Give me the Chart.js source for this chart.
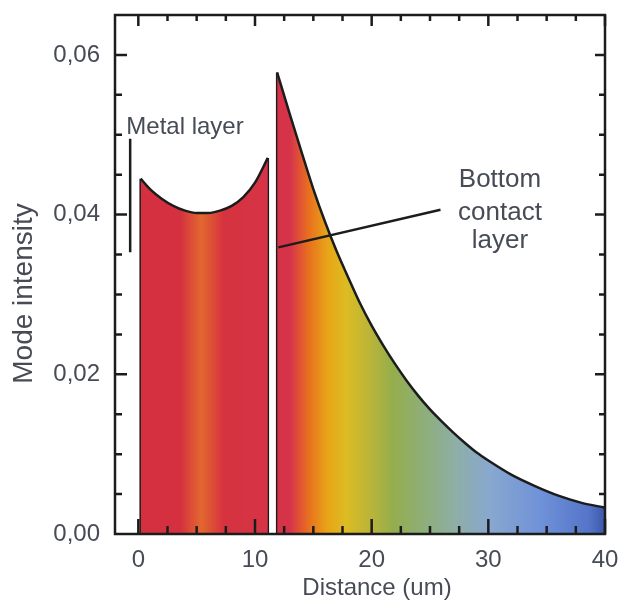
<!DOCTYPE html>
<html>
<head>
<meta charset="utf-8">
<script src="https://cdn.jsdelivr.net/npm/chart.js@4.4.1/dist/chart.umd.min.js"></script>
<style>
  html, body { margin: 0; padding: 0; background: #fff; }
  canvas { display: block; }
</style>
</head>
<body>
<canvas id="modeChart" width="619" height="600"></canvas>
<script>
// values (distance in um, mode intensity)
const metalX = [0.2, 1, 2, 3, 4, 5, 6, 7, 8, 9, 10, 11.1];
const metalY = [0.0445, 0.0432, 0.0420, 0.0411, 0.0405, 0.0402, 0.0402, 0.0405, 0.0411, 0.0422, 0.0440, 0.0471];

const contactX = [11.9, 13, 14, 15, 16, 17, 18, 19, 20, 21, 22, 23, 24, 25, 26, 27, 28, 29, 30, 32, 34, 36, 38, 40];
const contactY = [0.0578, 0.0525, 0.0478, 0.0432, 0.0391, 0.0354, 0.0321, 0.0289, 0.0261, 0.0236, 0.0213, 0.0192, 0.0173, 0.0156,
                  0.0141, 0.0127, 0.0114, 0.0102, 0.0092, 0.0074, 0.0060, 0.0048, 0.0039, 0.0033];

const xTicks = [0, 10, 20, 30, 40];
const yTicks = [0, 0.02, 0.04, 0.06];

// colour bands across the distance axis
const spectrum = [
  [-2, '#d5303f'], [3.6, '#d5303f'], [5.4, '#e2682f'], [7.3, '#d6333f'],
  [13.0, '#d6334a'], [14.6, '#e8701e'], [16.2, '#e8a418'], [17.8, '#dcbc22'],
  [20.0, '#b8b43a'], [21.8, '#94ae4c'], [24.4, '#8eae78'], [27.3, '#8eaea8'],
  [30.1, '#88a8cf'], [34.4, '#7092d8'], [38.7, '#5474c8'], [40, '#3a58a8']
];

const textColor = '#474b55';
const lineColor = '#1c1c1c';

let cachedGrad = null;
function spectrumFill(context) {
  const chart = context.chart;
  const area = chart.chartArea;
  if (!area) return '#d5303f';
  const xs = chart.scales.x;
  const x0 = xs.getPixelForValue(-2), x1 = xs.getPixelForValue(40);
  if (cachedGrad && cachedGrad.key === x0 + ':' + x1) return cachedGrad.g;
  const g = chart.ctx.createLinearGradient(x0, 0, x1, 0);
  spectrum.forEach(([v, c]) => g.addColorStop((v + 2) / 42, c));
  cachedGrad = { key: x0 + ':' + x1, g };
  return g;
}

function toPoints(xs, ys) {
  return xs.map((x, i) => ({ x: x, y: ys[i] }));
}

// vertical side of a filled region, from the axis up to the curve
function edge(xs, ys, i) {
  return {
    data: [{ x: xs[i], y: 0 }, { x: xs[i], y: ys[i] }],
    fill: false,
    borderColor: lineColor,
    borderWidth: 2.5,
    pointRadius: 0
  };
}

const decor = {
  id: 'decor',
  afterDatasetsDraw(chart) {
    const { ctx, chartArea: a, scales: { x, y } } = chart;
    ctx.save();
    ctx.strokeStyle = lineColor;
    ctx.lineWidth = 2.5;
    ctx.strokeRect(a.left, a.top, a.right - a.left, a.bottom - a.top);

    // inward ticks on all four sides
    ctx.beginPath();
    for (let v = 0; v <= 40; v += 2.5) {
      const px = x.getPixelForValue(v);
      const major = xTicks.includes(v);
      ctx.moveTo(px, a.bottom); ctx.lineTo(px, a.bottom - (major ? 15 : 8));
      ctx.moveTo(px, a.top); ctx.lineTo(px, a.top + (major ? 11 : 6));
    }
    for (let k = 1; k <= 12; k++) {
      const py = y.getPixelForValue(k * 0.005);
      const major = k % 4 === 0;
      ctx.moveTo(a.left, py); ctx.lineTo(a.left + (major ? 12 : 7), py);
      ctx.moveTo(a.right, py); ctx.lineTo(a.right - (major ? 10 : 6), py);
    }
    ctx.stroke();

    // metal layer marker and bottom contact pointer
    ctx.beginPath();
    ctx.moveTo(x.getPixelForValue(-0.7), y.getPixelForValue(0.0495));
    ctx.lineTo(x.getPixelForValue(-0.7), y.getPixelForValue(0.0353));
    ctx.moveTo(x.getPixelForValue(12.0), y.getPixelForValue(0.0359));
    ctx.lineTo(x.getPixelForValue(25.9), y.getPixelForValue(0.0406));
    ctx.stroke();

    ctx.fillStyle = textColor;
    ctx.textBaseline = 'alphabetic';
    ctx.font = '24px "Liberation Sans", Arial, sans-serif';
    ctx.textAlign = 'left';
    ctx.fillText('Metal layer', x.getPixelForValue(-1.03), y.getPixelForValue(0.0501));

    ctx.font = '26px "Liberation Sans", Arial, sans-serif';
    ctx.textAlign = 'center';
    const cx = x.getPixelForValue(31.0);
    ctx.fillText('Bottom', cx, y.getPixelForValue(0.0434));
    ctx.fillText('contact', cx, y.getPixelForValue(0.0393));
    ctx.fillText('layer', cx, y.getPixelForValue(0.0358));

    // axis titles
    ctx.font = '24px "Liberation Sans", Arial, sans-serif';
    ctx.textBaseline = 'middle';
    ctx.fillText('Distance (um)', (a.left + a.right) / 2 + 17, 588);
    ctx.translate(24, (a.top + a.bottom) / 2 + 19);
    ctx.rotate(-Math.PI / 2);
    ctx.font = '28px "Liberation Sans", Arial, sans-serif';
    ctx.fillText('Mode intensity', 0, 0);
    ctx.restore();
  }
};

const areaSet = {
  fill: 'origin',
  backgroundColor: spectrumFill,
  borderColor: lineColor,
  borderWidth: 2.5,
  pointRadius: 0,
  cubicInterpolationMode: 'monotone'
};

new Chart(document.getElementById('modeChart'), {
  type: 'line',
  data: {
    datasets: [
      Object.assign({ label: 'Metal layer', data: toPoints(metalX, metalY) }, areaSet),
      Object.assign({ label: 'Bottom contact layer', data: toPoints(contactX, contactY) }, areaSet),
      edge(metalX, metalY, 0),
      edge(metalX, metalY, metalX.length - 1),
      edge(contactX, contactY, 0)
    ]
  },
  options: {
    responsive: false,
    animation: false,
    devicePixelRatio: 1,
    layout: { padding: { top: 15, right: 14, left: 0, bottom: 0 } },
    plugins: { legend: { display: false }, tooltip: { enabled: false } },
    scales: {
      x: {
        type: 'linear',
        min: -2,
        max: 40,
        grid: { display: false },
        border: { display: false },
        afterBuildTicks: s => { s.ticks = xTicks.map(v => ({ value: v })); },
        afterFit: s => { s.height = 66; s.paddingLeft = 0; s.paddingRight = 0; },
        ticks: {
          padding: 4,
          color: textColor,
          font: { family: '"Liberation Sans", Arial, sans-serif', size: 24 },
          callback: v => String(v)
        }
      },
      y: {
        min: 0,
        max: 0.065,
        grid: { display: false },
        border: { display: false },
        afterBuildTicks: s => { s.ticks = yTicks.map(v => ({ value: v })); },
        afterFit: s => { s.width = 115; s.paddingTop = 0; s.paddingBottom = 0; },
        ticks: {
          padding: 7,
          color: textColor,
          font: { family: '"Liberation Sans", Arial, sans-serif', size: 24 },
          callback: v => v.toFixed(2).replace('.', ',')
        }
      }
    }
  },
  plugins: [decor]
});
</script>
</body>
</html>
